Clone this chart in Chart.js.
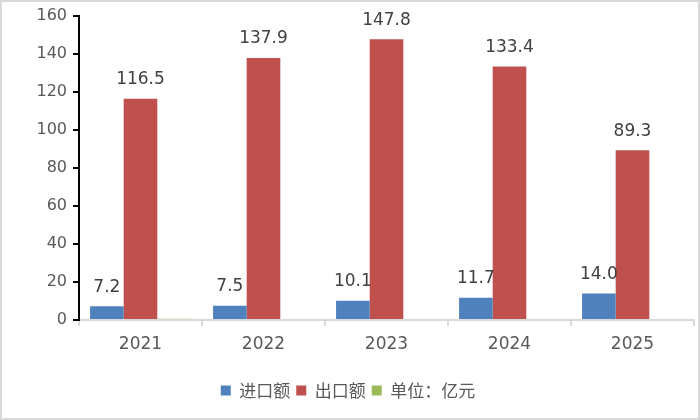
<!DOCTYPE html>
<html>
<head>
<meta charset="utf-8">
<script src="https://cdn.jsdelivr.net/npm/chart.js@4/dist/chart.umd.min.js"></script>
<style>
    html, body { margin: 0; padding: 0; background: #fff; }
    #wrap { width: 700px; height: 420px; box-sizing: border-box; border: 2px solid #d9d9d9; }
</style>
</head>
<body>
<div id="wrap"><canvas id="chart" width="696" height="416"></canvas></div>
<script>
var years = ["2021", "2022", "2023", "2024", "2025"];
var importVals = [7.2, 7.5, 10.1, 11.7, 14.0];
var exportVals = [116.5, 137.9, 147.8, 133.4, 89.3];
var unitVals = [0.7, null, null, null, null];
var seriesNames = ["进口额", "出口额", "单位：亿元"];

var fontFamily = "'DejaVu Sans', 'Noto Sans CJK SC', sans-serif";

// value labels above blue and red bars
var barLabels = {
    id: 'barLabels',
    afterDatasetsDraw: function(chart) {
        var ctx = chart.ctx;
        ctx.save();
        ctx.font = "17px " + fontFamily;
        ctx.fillStyle = "#404040";
        ctx.textAlign = "center";
        ctx.textBaseline = "middle";
        [0, 1].forEach(function(di) {
            var meta = chart.getDatasetMeta(di);
            meta.data.forEach(function(bar, i) {
                var v = chart.data.datasets[di].data[i];
                ctx.fillText(v.toFixed(1), bar.x, bar.y - 19);
            });
        });
        ctx.restore();
    }
};

new Chart(document.getElementById("chart"), {
    type: "bar",
    data: {
        labels: years,
        datasets: [
            {label: seriesNames[0], data: importVals, backgroundColor: "#4F81BD"},
            {label: seriesNames[1], data: exportVals, backgroundColor: "#C0504D"},
            {label: seriesNames[2], data: unitVals, backgroundColor: "#9BBB59"}
        ]
    },
    options: {
        responsive: false,
        animation: false,
        layout: {padding: {left: 0, right: 4, top: 4, bottom: 9}},
        datasets: {bar: {categoryPercentage: 0.82, barPercentage: 1.0}},
        scales: {
            x: {
                afterFit: function(scale) { scale.height = 56; },
                grid: {offset: true, drawOnChartArea: false, color: "#d9d9d9", tickLength: 6, lineWidth: 2},
                border: {color: "#d9d9d9", width: 2},
                ticks: {color: "#595959", font: {size: 17, family: fontFamily}, padding: 8}
            },
            y: {
                min: 0, max: 160,
                afterFit: function(scale) { scale.width = 77; },
                grid: {drawOnChartArea: false, color: "#000", tickLength: 6, lineWidth: 2},
                border: {color: "#000", width: 2},
                ticks: {stepSize: 20, color: "#595959", font: {size: 16, family: fontFamily, lineHeight: 1.0}, padding: 6}
            }
        },
        plugins: {
            legend: {
                position: "bottom",
                labels: {
                    boxWidth: 10, boxHeight: 10, padding: 6,
                    color: "#595959",
                    font: {size: 17, family: "'Noto Sans CJK SC', sans-serif"}
                }
            },
            tooltip: {enabled: false}
        }
    },
    plugins: [barLabels]
});
</script>
</body>
</html>
